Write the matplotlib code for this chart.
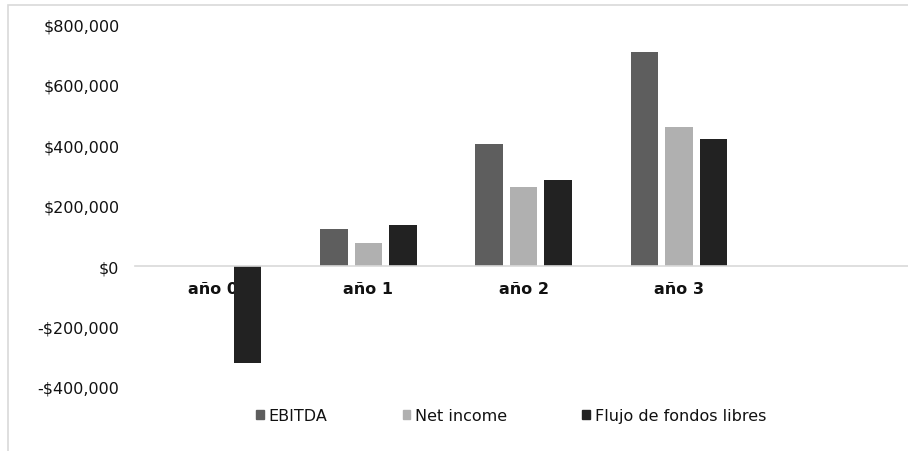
import numpy as np
import matplotlib
matplotlib.use("Agg")
import matplotlib.pyplot as plt
from matplotlib.patches import Patch, Rectangle
from matplotlib.ticker import FuncFormatter

# data
categories = ["año 0", "año 1", "año 2", "año 3", ""]
ebitda = [0, 124000, 403000, 709000, np.nan]
net_income = [0, 77000, 263000, 461000, np.nan]
fcf = [-320000, 135000, 284000, 420000, np.nan]
series_names = ["EBITDA", "Net income", "Flujo de fondos libres"]
colors = ["#5e5e5e", "#b0b0b0", "#222222"]

plt.rcParams["font.family"] = "DejaVu Sans"
FS = 11.5

fig = plt.figure(figsize=(9.08, 4.52), dpi=100)
# light frame around the chart area (cut at right/bottom like the reference)
fig.patches.append(Rectangle((8 / 908, -0.1), 1.1, 1 - 6 / 452 + 0.1,
                             transform=fig.transFigure, fill=False,
                             edgecolor="#d9d9d9", lw=1.2))

ax = fig.add_axes([135.4 / 908, 1 - 387.7 / 452, 776.5 / 908, (387.7 - 25.6) / 452])

# zero line as the x axis (set before tick labels: this resets the ticks)
for s in ["top", "right", "left"]:
    ax.spines[s].set_visible(False)
ax.spines["bottom"].set_position(("data", 0))
ax.spines["bottom"].set_color("#d9d9d9")
ax.spines["bottom"].set_linewidth(1.2)

x = np.arange(len(categories))
w = 0.177
off = 0.222
for i, (vals, name) in enumerate(zip([ebitda, net_income, fcf], series_names)):
    ax.bar(x + (i - 1) * off, vals, w, color=colors[i], linewidth=0,
           label=name, zorder=2)

ax.set_xlim(-0.5, 4.5)
ax.set_ylim(-400000, 800000)
ax.set_yticks(np.arange(-400000, 800001, 200000))
ax.yaxis.set_major_formatter(FuncFormatter(
    lambda v, p: f"-${abs(v):,.0f}" if v < 0 else f"${v:,.0f}"))
ax.tick_params(axis="y", length=0, pad=11.5, labelsize=FS, labelcolor="#111111")
ax.tick_params(axis="x", length=0, pad=10.5, labelsize=FS, labelcolor="#111111")
ax.set_xticks(x)
ax.set_xticklabels(categories, fontweight="bold")
ax.set_axisbelow(True)

handles = [Patch(facecolor=c, edgecolor=c) for c in colors]
fig.legend(handles, series_names, loc="center", bbox_to_anchor=(0.563, 1 - 417 / 452),
           ncol=3, frameon=False, fontsize=FS, handlelength=0.5, handleheight=0.5,
           handletextpad=0.3, columnspacing=4.7, labelcolor="#111111")

fig.savefig("out.png", dpi=100)
